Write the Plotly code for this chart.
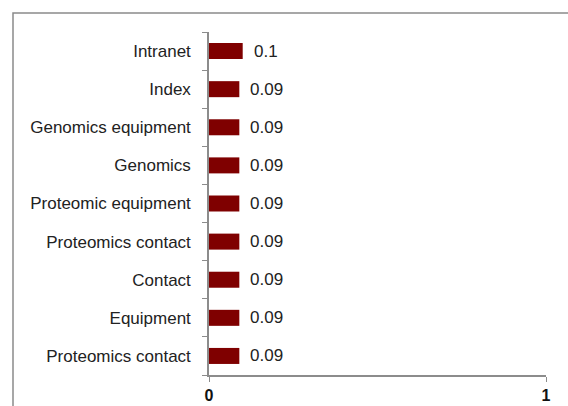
import plotly.graph_objects as go

# Categories listed top to bottom, with their scores
categories = [
    "Intranet",
    "Index",
    "Genomics equipment",
    "Genomics",
    "Proteomic equipment",
    "Proteomics contact",
    "Contact",
    "Equipment",
    "Proteomics contact",
]
values = [0.1, 0.09, 0.09, 0.09, 0.09, 0.09, 0.09, 0.09, 0.09]
x_ticks = [0, 1]

# numeric rows (top row highest) so repeated names stay separate bars
n = len(categories)
rows = [n - 1 - i for i in range(n)]

bar_color = "#7f0000"
axis_gray = "#8c8c8c"
text_color = "#222222"
font_family = "Liberation Sans, Arial, sans-serif"

fig = go.Figure(
    go.Bar(
        x=values,
        y=rows,
        orientation="h",
        width=0.42,
        marker=dict(color=bar_color, line=dict(width=0)),
        hoverinfo="skip",
    )
)

# value labels to the right of each bar
for v, r in zip(values, rows):
    fig.add_annotation(
        x=v, y=r, xref="x", yref="y",
        text=f"{v:g}",
        showarrow=False,
        xanchor="left",
        xshift=9,
        font=dict(family=font_family, size=17, color=text_color),
    )

# outer frame around the chart area
L, R, T, B = 209, 22, 32, 31
pw, ph = 568 - L - R, 406 - T - B
def px_x(px):
    return (px - L) / pw
def px_y(py):
    return (406 - B - py) / ph

fig.add_shape(
    type="rect", xref="paper", yref="paper",
    x0=px_x(13), x1=px_x(580), y0=px_y(13), y1=px_y(420),
    line=dict(color="#8a8a8a", width=1.5),
    fillcolor="rgba(0,0,0,0)",
    layer="below",
)

fig.update_layout(
    width=568,
    height=406,
    margin=dict(l=L, r=R, t=T, b=B, autoexpand=False),
    paper_bgcolor="white",
    plot_bgcolor="white",
    showlegend=False,
    font=dict(family=font_family, size=17, color=text_color),
    xaxis=dict(
        range=[0, 1],
        tickvals=x_ticks,
        ticktext=[f"<b>{t}</b>" for t in x_ticks],
        tickfont=dict(family=font_family, size=16, color="#111111"),
        showline=True,
        linecolor=axis_gray,
        linewidth=1.5,
        ticks="outside",
        ticklen=5,
        tickcolor=axis_gray,
        showgrid=True,
        gridcolor=axis_gray,
        gridwidth=1.5,
        zeroline=False,
        automargin=False,
        fixedrange=True,
    ),
    yaxis=dict(
        range=[-0.5, n - 0.5],
        tickvals=rows,
        ticktext=categories,
        tickfont=dict(family=font_family, size=17, color=text_color),
        ticks="",
        ticklen=0,
        showline=True,
        linecolor=axis_gray,
        linewidth=1.5,
        showgrid=False,
        zeroline=False,
        automargin=False,
        ticklabelstandoff=13,
        minor=dict(
            tickvals=[i - 0.5 for i in range(n + 1)],
            ticks="outside",
            ticklen=5,
            tickcolor=axis_gray,
            showgrid=False,
        ),
        fixedrange=True,
    ),
)

fig.write_html("out.html")
